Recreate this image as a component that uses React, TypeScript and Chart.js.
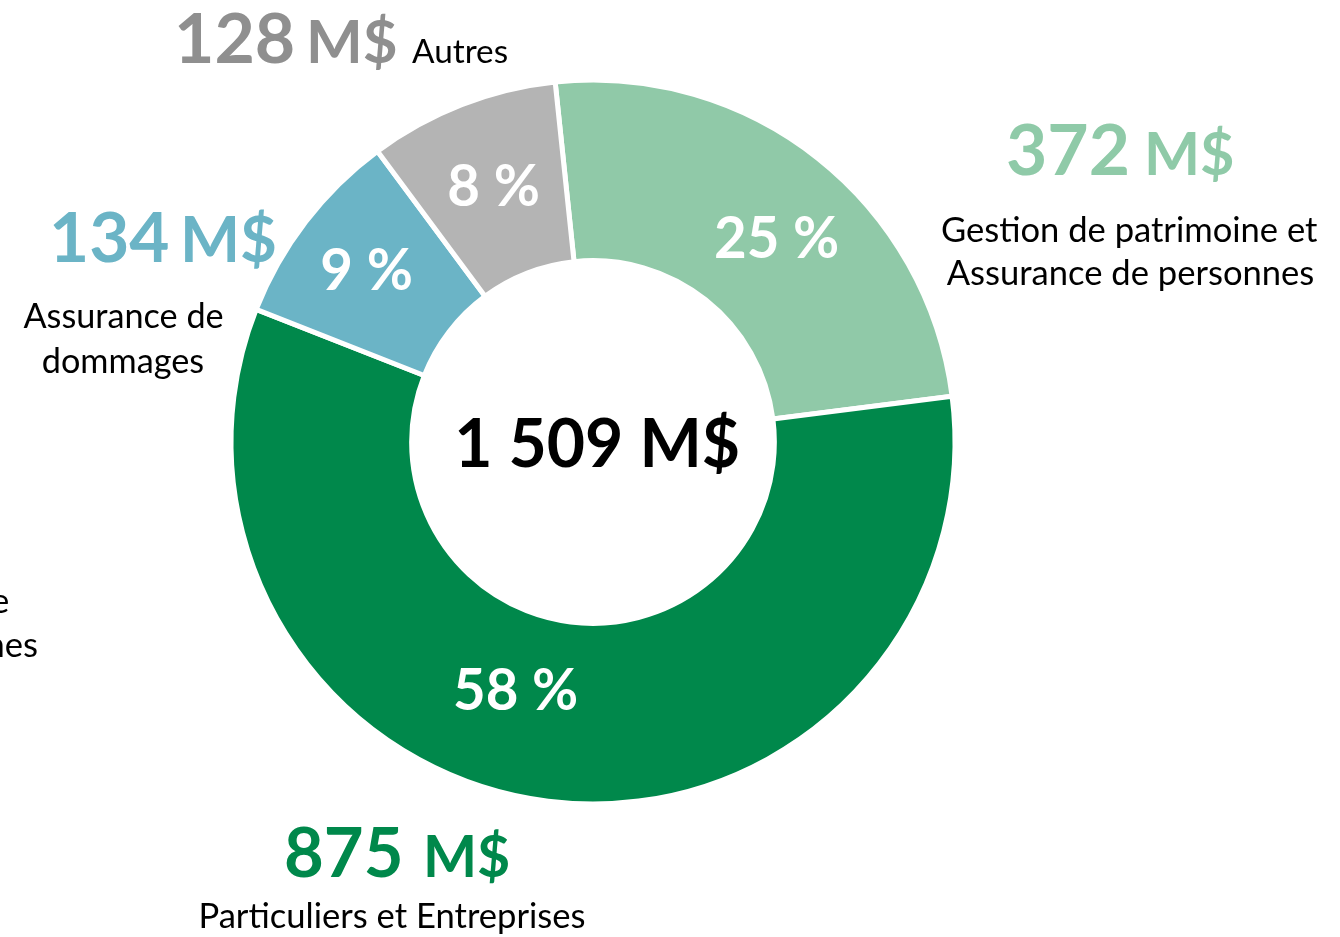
import React, { useEffect, useRef } from "react";
import { Chart, registerables } from "chart.js";

Chart.register(...registerables);

// ---- data ----
const categories = [
  "Gestion de patrimoine et Assurance de personnes",
  "Particuliers et Entreprises",
  "Assurance de dommages",
  "Autres",
];
const categoryLines = [
  ["Gestion de patrimoine et", "Assurance de personnes"],
  ["Particuliers et Entreprises"],
  ["Assurance de", "dommages"],
  ["Autres"],
];
const values = [372, 875, 134, 128];
const unit = "M$";
const ghostLines = ["Assurance de", "personnes"];

// ---- styles / layout ----
const sliceColors = ["#90C9A8", "#00884B", "#6BB4C6", "#B4B4B4"];
const amountColors = ["#8FCAA8", "#00884B", "#6BB4C6", "#8F8F8F"];
const FONT = "Lato, 'Open Sans', sans-serif";

const amountLayout = [
  { numL: 1008, numR: 1127, unitL: 1148, unitR: 1232, base: 175 },
  { numL: 286, numR: 400, unitL: 427, unitR: 508, base: 877 },
  { numL: 53, numR: 168, unitL: 185, unitR: 275, base: 262 },
  { numL: 178, numR: 293, unitL: 310, unitR: 395, base: 63 },
];
const categoryLayout = [
  { fitW: 375, cx: 1130, bases: [242, 285] },
  { fitW: 383, cx: 393, bases: [928] },
  { fitW: 199, cx: 123, bases: [328, 373] },
  { fitW: 95, cx: 412, bases: [63], left: true },
];
const percentLayout = [
  { cx: 777, base: 258 },
  { cx: 516, base: 710 },
  { cx: 367, base: 290 },
  { cx: 494, base: 206 },
];
const ghostLayout = [
  { right: 8, base: 613 },
  { right: 37, base: 657 },
];

function fmtThousands(n: number) {
  return String(n).replace(/\B(?=(\d{3})+(?!\d))/g, " ");
}

function fitSize(ctx: CanvasRenderingContext2D, text: string, weight: string, width: number) {
  ctx.font = `${weight} 100px ${FONT}`;
  const m = ctx.measureText(text);
  const ink = m.actualBoundingBoxLeft + m.actualBoundingBoxRight;
  return (100 * width) / ink;
}

function drawInk(
  ctx: CanvasRenderingContext2D,
  text: string,
  weight: string,
  size: number,
  left: number,
  base: number,
  color: string
) {
  ctx.font = `${weight} ${size}px ${FONT}`;
  ctx.textAlign = "left";
  ctx.textBaseline = "alphabetic";
  const m = ctx.measureText(text);
  ctx.fillStyle = color;
  ctx.fillText(text, left + m.actualBoundingBoxLeft, base);
}

function drawCentered(
  ctx: CanvasRenderingContext2D,
  text: string,
  weight: string,
  size: number,
  cx: number,
  base: number,
  color: string
) {
  ctx.font = `${weight} ${size}px ${FONT}`;
  ctx.textAlign = "left";
  ctx.textBaseline = "alphabetic";
  const m = ctx.measureText(text);
  const ink = m.actualBoundingBoxLeft + m.actualBoundingBoxRight;
  ctx.fillStyle = color;
  ctx.fillText(text, cx - ink / 2 + m.actualBoundingBoxLeft, base);
}

const labelsPlugin = {
  id: "customLabels",
  afterDraw(chart: any) {
    const ctx: CanvasRenderingContext2D = chart.ctx;
    ctx.save();
    const total = values.reduce((a, b) => a + b, 0);

    // amounts
    values.forEach((v, i) => {
      const L = amountLayout[i];
      const numText = String(v);
      const s1 = fitSize(ctx, numText, "bold", L.numR - L.numL);
      drawInk(ctx, numText, "bold", s1, L.numL, L.base, amountColors[i]);
      const s2 = fitSize(ctx, unit, "bold", L.unitR - L.unitL);
      drawInk(ctx, unit, "bold", s2, L.unitL, L.base, amountColors[i]);
    });

    // category names
    let catSize = 34;
    categoryLines.forEach((lines, i) => {
      const L = categoryLayout[i];
      const s = fitSize(ctx, lines[0], "normal", L.fitW);
      if (i === 0) catSize = s;
      lines.forEach((line, j) => {
        if ((L as any).left) {
          drawInk(ctx, line, "normal", s, L.cx, L.bases[j], "#000");
        } else {
          drawCentered(ctx, line, "normal", s, L.cx, L.bases[j], "#000");
        }
      });
    });

    // ghost clipped label at left edge
    ghostLines.forEach((line, j) => {
      const G = ghostLayout[j];
      ctx.font = `normal ${catSize}px ${FONT}`;
      const m = ctx.measureText(line);
      ctx.fillStyle = "#000";
      ctx.textAlign = "left";
      ctx.fillText(line, G.right - m.actualBoundingBoxRight, G.base);
    });

    // percentages
    const pSize = fitSize(ctx, "25 %", "bold", 122);
    values.forEach((v, i) => {
      const P = percentLayout[i];
      const pct = Math.round((v / total) * 100) + " %";
      drawCentered(ctx, pct, "bold", pSize, P.cx, P.base, "#FFFFFF");
    });

    // total
    const totalText = `${fmtThousands(total)} ${unit}`;
    const tSize = fitSize(ctx, totalText, "bold", 280);
    drawCentered(ctx, totalText, "bold", tSize, 598, 467, "#000");

    ctx.restore();
  },
};

export default function App() {
  const ref = useRef<HTMLCanvasElement | null>(null);
  useEffect(() => {
    if (!ref.current) return;
    const chart = new Chart(ref.current, {
      type: "doughnut",
      data: {
        labels: categories,
        datasets: [
          {
            data: values,
            backgroundColor: sliceColors,
            borderColor: "#FFFFFF",
            borderWidth: 5,
          },
        ],
      },
      options: {
        responsive: false,
        animation: false,
        rotation: -6,
        cutout: "50.1%",
        radius: 362,
        layout: { padding: { left: 0, right: 154, top: 0, bottom: 53 } },
        plugins: {
          legend: { display: false },
          tooltip: { enabled: false },
        },
      } as any,
      plugins: [labelsPlugin],
    });
    return () => chart.destroy();
  }, []);
  return (
    <div style={{ position: "fixed", left: 0, top: 0, width: 1340, height: 937, background: "#fff" }}>
      <canvas ref={ref} width={1340} height={937} style={{ width: 1340, height: 937, display: "block" }} />
    </div>
  );
}
